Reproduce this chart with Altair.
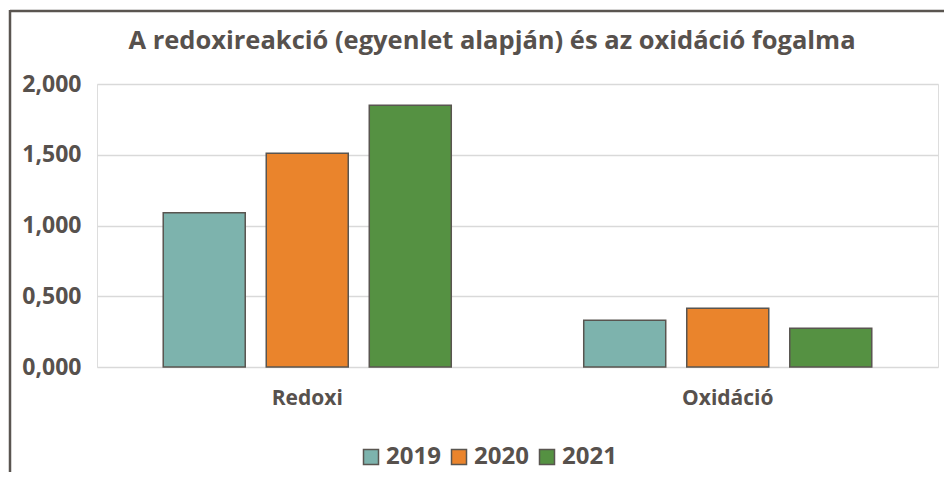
import altair as alt
import pandas as pd

categories = ["Redoxi", "Oxidáció"]
years = ["2019", "2020", "2021"]
values_2019 = [1.090, 0.330]
values_2020 = [1.510, 0.415]
values_2021 = [1.850, 0.274]
colors = ["#7DB3AD", "#EA842C", "#559142"]
title_text = "A redoxireakció (egyenlet alapján) és az oxidáció fogalma"

rows = []
for i, c in enumerate(categories):
    for y, vals in zip(years, [values_2019, values_2020, values_2021]):
        rows.append({"cat": c, "year": y, "value": vals[i]})
df = pd.DataFrame(rows)

TXT = "#57514D"
FONT = "Open Sans"
FRAME = "#5A5550"

bars = alt.Chart(df).mark_bar(stroke="#595550", strokeWidth=1.5).encode(
    x=alt.X("cat:N", sort=categories, title=None,
            scale=alt.Scale(paddingInner=0.315, paddingOuter=0.1575),
            axis=alt.Axis(labelAngle=0, labelFontSize=21, labelFont=FONT,
                          labelFontWeight="bold", labelColor=TXT,
                          domain=False, ticks=False, labelPadding=20, labelOffset=0)),
    xOffset=alt.XOffset("year:N", sort=years,
                        scale=alt.Scale(paddingInner=0.204, paddingOuter=0)),
    y=alt.Y("value:Q", title=None,
            scale=alt.Scale(domain=[0, 2], nice=False),
            axis=alt.Axis(values=[0, 0.5, 1, 1.5, 2],
                          labelExpr="replace(format(datum.value, '.3f'), '.', ',')",
                          labelFontSize=23, labelFont=FONT, labelFontWeight="bold",
                          labelColor=TXT, domain=False, ticks=False, labelPadding=16,
                          grid=True, gridColor="#D9D9D9", gridWidth=1.5)),
    fill=alt.Fill("year:N", sort=years,
                  scale=alt.Scale(domain=years, range=colors),
                  legend=alt.Legend(title=None, orient="none", direction="horizontal",
                                    legendX=262, legendY=361, symbolType="square",
                                    symbolSize=225, symbolStrokeColor="#595550",
                                    symbolStrokeWidth=1.5, labelFontSize=24,
                                    labelFont=FONT, labelFontWeight="bold",
                                    labelColor=TXT, labelOffset=3, columnPadding=6,
                                    padding=0)),
)

one = pd.DataFrame({"t": [title_text]})

frame_top = alt.Chart(one).mark_rule(color=FRAME, strokeWidth=2.5).encode(
    x=alt.value(-87), x2=alt.value(900), y=alt.value(-73),
)
frame_left = alt.Chart(one).mark_rule(color=FRAME, strokeWidth=2.5).encode(
    x=alt.value(-87), y=alt.value(-74), y2=alt.value(500),
)

title = alt.Chart(one).mark_text(
    font=FONT, fontSize=25.5, fontWeight="bold", color=TXT,
    align="center", baseline="alphabetic"
).encode(
    x=alt.value(395), y=alt.value(-35), text="t:N",
)

chart = alt.layer(frame_top, frame_left, title, bars).properties(
    width=841, height=283,
    autosize=alt.AutoSizeParams(type="none"),
    padding={"left": 89, "top": 76, "right": 6, "bottom": 105},
).configure_view(stroke=None).configure(background="white")

chart.save("out.html", embed_options={"renderer": "svg", "actions": False})
